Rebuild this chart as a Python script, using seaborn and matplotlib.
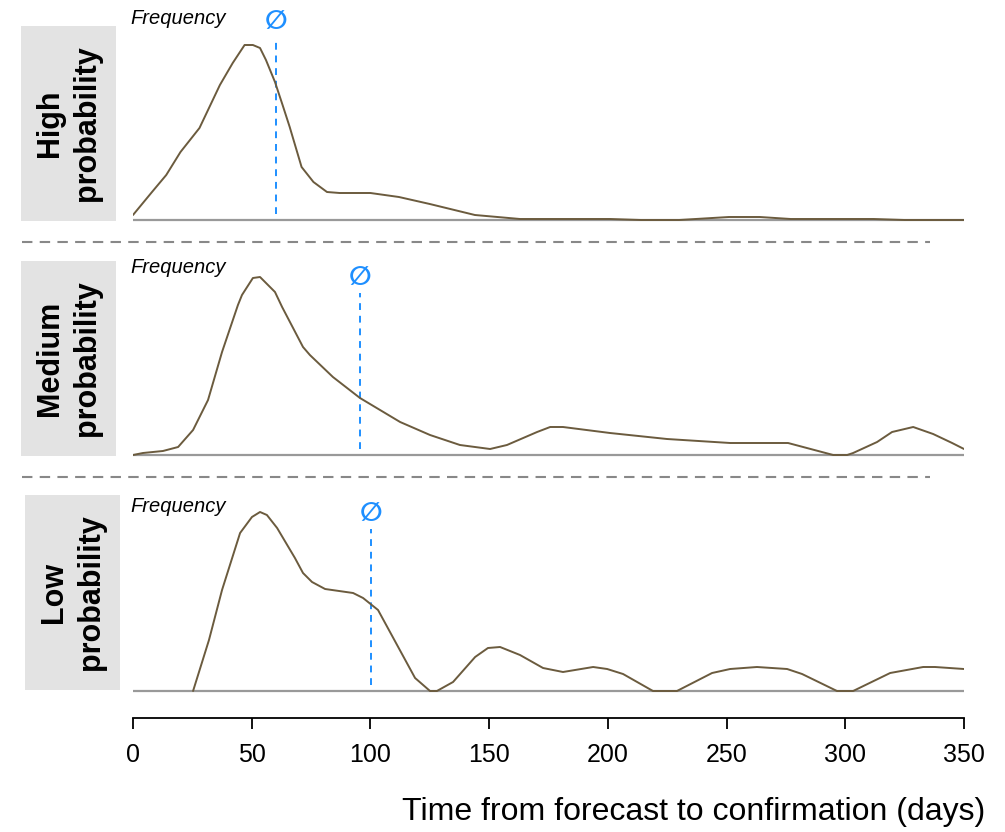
import matplotlib
matplotlib.use("Agg")
import matplotlib.pyplot as plt
from matplotlib.lines import Line2D
import pandas as pd
import seaborn as sns

# days from forecast to confirmation and relative frequency
high_days = [0, 8, 14, 20, 28, 31.6, 36.6, 42, 47, 50.5, 53.5, 56, 59.8, 63, 66, 71, 76,
             81.7, 87, 100, 112, 125, 144, 163, 201, 214, 230, 251, 264, 277, 312, 325, 350]
high_freq = [5, 28, 45, 68, 92, 110, 135, 157, 175, 175, 172, 160, 138, 115, 93, 53, 38,
             28, 27, 27, 23, 16, 5, 1, 1, 0, 0, 3, 3, 1, 1, 0, 0]

medium_days = [0, 4.2, 12.6, 19, 25.3, 31.6, 37.5, 44.2, 45.9, 50.5, 53.5, 59.8, 62.8, 71.6,
               74.5, 84.2, 95.6, 112.5, 125.1, 137.7, 150.4, 157.5, 170.2, 175.7, 181.1,
               200.9, 224.9, 251.5, 275.9, 294.9, 300.8, 303.3, 313.4, 319.7, 328.6, 337,
               345, 350]
medium_freq = [0, 2, 4, 8, 25, 55, 103, 150, 160, 177, 178, 163, 148, 108, 100, 78, 57, 33,
               20, 10, 6, 10, 23, 28, 28, 22, 16, 12, 12, 0, 0, 2, 13, 23, 28, 21, 12, 6]

low_days = [25.3, 32, 37.5, 45.1, 50.1, 53.5, 56.4, 60.7, 68.2, 71.6, 75.4, 80.9, 92.7, 96.9,
            103.2, 118.8, 125.1, 128, 134.8, 144.1, 149.5, 154.6, 163, 172.7, 181.1, 193.8,
            199.7, 206.4, 219, 229.1, 243.9, 251.5, 262.8, 275.5, 281.8, 296.5, 303.3,
            318.9, 332.8, 337.8, 350]
low_freq = [0, 51, 101, 158, 174, 179, 176, 163, 133, 118, 109, 102, 98, 93, 81, 13, 0, 0, 9,
            34, 43, 44, 36, 23, 19, 24, 22, 17, 0, 0, 18, 22, 24, 22, 17, 0, 0, 18, 24, 24, 22]

labels = ["High\nprobability", "Medium\nprobability", "Low\nprobability"]
mean_days = [60.2, 95.6, 100.3]
x_ticks = [0, 50, 100, 150, 200, 250, 300, 350]

series = [(high_days, high_freq), (medium_days, medium_freq), (low_days, low_freq)]

W, H = 1005, 832
CURVE = "#6b5b3e"
BLUE = "#1e8fff"
GREY = "#999999"


def rect(left, top, width, height):
    # pixel box -> figure fraction
    return [left / W, 1 - (top + height) / H, width / W, height / H]


sns.set_style("white")
plt.rcParams["font.family"] = ["Liberation Sans", "DejaVu Sans"]
plt.rcParams["text.color"] = "black"

fig = plt.figure(figsize=(W / 100, H / 100), dpi=100)

baselines = [220, 455, 691]
boxes = [(21, 26, 95, 195), (21, 261, 95, 195), (25, 495, 95, 195)]

for i, (days, freq) in enumerate(series):
    base = baselines[i]
    ax = fig.add_axes(rect(133, base - 210, 831, 213))
    ax.axhline(0, color=GREY, lw=1.6, zorder=1)
    df = pd.DataFrame({"days": days, "freq": freq})
    sns.lineplot(data=df, x="days", y="freq", ax=ax, color=CURVE, lw=1.4, zorder=3)
    ax.set_xlim(0, 350)
    ax.set_ylim(-3, 210)
    ax.set_xlabel("")
    ax.set_ylabel("")
    ax.set_yticks([])
    for s in ["top", "right", "left"]:
        ax.spines[s].set_visible(False)

    # mean marker
    m = mean_days[i]
    ax.plot([m, m], [6, 162 if i else 178], color=BLUE, lw=1.4, ls=(0, (3.5, 3)), zorder=2)
    ax.text(m, 198 if i == 0 else 177, "\u2205", color=BLUE, fontsize=19, ha="center",
            va="center", family=["DejaVu Sans"], fontweight="bold")
    ax.text(-1.3, 201 if i == 0 else 188 if i == 1 else 184, "Frequency", style="italic",
            fontsize=14.5, ha="left", va="center")

    if i < 2:
        ax.spines["bottom"].set_visible(False)
        ax.set_xticks([])
    else:
        ax.spines["bottom"].set_position(("outward", 17))
        ax.spines["bottom"].set_linewidth(1.3)
        ax.spines["bottom"].set_color("black")
        ax.set_xticks(x_ticks)
        ax.tick_params(axis="x", direction="out", length=8, width=1.3, pad=10,
                       labelsize=18, bottom=True, colors="black")
        for t in ax.get_xticklabels():
            t.set_family(["Liberation Sans Narrow", "Liberation Sans"])

    # grey label box
    bx, by, bw, bh = boxes[i]
    lab = fig.add_axes(rect(bx, by, bw, bh))
    lab.set_facecolor("#e3e3e3")
    lab.set_xticks([])
    lab.set_yticks([])
    for s in lab.spines.values():
        s.set_visible(False)
    lab.text(0.5, 0.5, labels[i], rotation=90, ha="center", va="center",
             fontsize=22, fontweight="bold", linespacing=1.3, transform=lab.transAxes)

# dashed separators between panels
for y in [241.5, 476.5]:
    fig.add_artist(Line2D([22 / W, 930 / W], [1 - y / H, 1 - y / H], color="#888888",
                          lw=1.5, dashes=(5, 3.5), transform=fig.transFigure))

fig.text(985 / W, 1 - 812 / H, "Time from forecast to confirmation (days)",
         ha="right", va="center", fontsize=23)

fig.savefig("out.png", dpi=100)
